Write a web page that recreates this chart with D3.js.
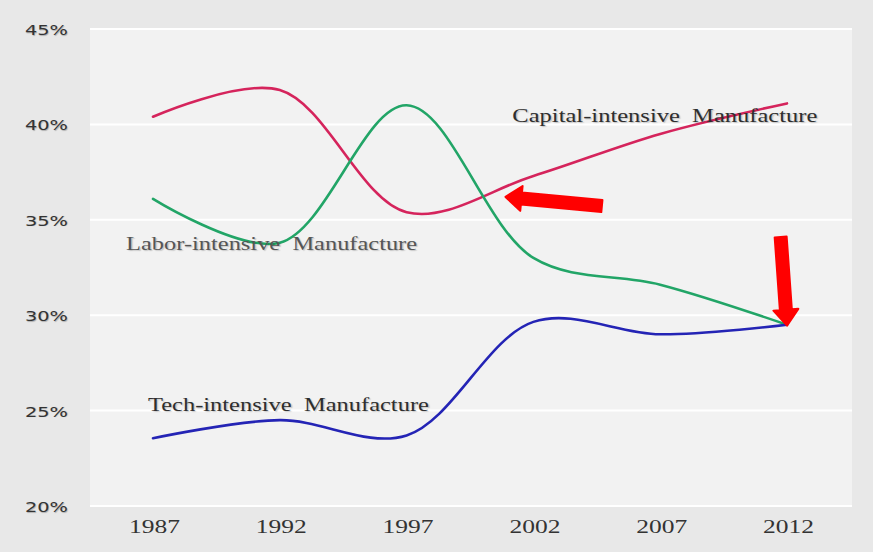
<!DOCTYPE html>
<html><head><meta charset="utf-8">
<script src="https://cdn.jsdelivr.net/npm/d3@7"></script>
<style>html,body{margin:0;padding:0;background:#e8e8e8;} svg{display:block}</style>
</head><body>
<svg id="chart" width="873" height="552"></svg>
<script>
// ---- data ----
const years = [1987, 1992, 1997, 2002, 2007, 2012];
const capital = [40.4, 41.8, 35.4, 37.3, 39.5, 41.1];
const labor = [36.1, 33.8, 41.0, 33.0, 31.6, 29.5];
const tech = [23.55, 24.5, 23.7, 29.65, 29.0, 29.5];
const yTicks = [20, 25, 30, 35, 40, 45];
const seriesNames = ["Capital-intensive  Manufacture", "Labor-intensive  Manufacture", "Tech-intensive  Manufacture"];
// arrows in data units: [year, percent]
const arrowFrom = [[2004.7, 35.72], [2011.75, 34.1]];
const arrowTo = [[2000.9, 36.2], [2012, 29.45]];

// ---- layout ----
const W = 873, H = 552;
const plot = {left: 90, right: 852, top: 28, bottom: 506};
const svg = d3.select("#chart");
const x = d3.scaleLinear().domain([1987, 2012]).range([153, 787]);
const y = d3.scaleLinear().domain([20, 45]).range([506, 29]);

svg.append("rect").attr("width", W).attr("height", H).attr("fill", "#e8e8e8");
svg.append("rect").attr("x", plot.left).attr("y", plot.top)
  .attr("width", plot.right - plot.left).attr("height", plot.bottom - plot.top)
  .attr("fill", "#f2f2f2");

// gridlines
svg.append("g").selectAll("line").data(yTicks).join("line")
  .attr("x1", plot.left).attr("x2", plot.right)
  .attr("y1", d => y(d)).attr("y2", d => y(d))
  .attr("stroke", "#ffffff").attr("stroke-width", 2);

// y axis
const yAxis = d3.axisLeft(y).tickValues(yTicks).tickFormat(d => d + "%").tickSize(0).tickPadding(0);
const gy = svg.append("g").attr("transform", "translate(68,0)").call(yAxis);
gy.select(".domain").remove();
gy.selectAll("text").attr("font-family", "'DejaVu Sans', sans-serif").attr("font-size", 14.5)
  .attr("fill", "#333").attr("dy", "0.38em")
  .attr("textLength", 43).attr("lengthAdjust", "spacingAndGlyphs")
  .style("text-shadow", "0.5px 0.5px 0.8px rgba(0,0,0,0.25)");

// x axis
const xAxis = d3.axisBottom(x).tickValues(years).tickFormat(d3.format("d")).tickSize(0).tickPadding(0);
const gx = svg.append("g").attr("transform", "translate(1,525)").call(xAxis);
gx.select(".domain").remove();
gx.selectAll("text").attr("font-family", "'Liberation Serif', 'Times New Roman', serif").attr("font-size", 19)
  .attr("fill", "#333").attr("dy", "0.4em")
  .attr("textLength", 51).attr("lengthAdjust", "spacingAndGlyphs");

// lines
const line = d3.line().x((d, i) => x(years[i])).y(d => y(d)).curve(d3.curveCatmullRom.alpha(0.5));
const series = [
  {vals: capital, color: "#d5245c"},
  {vals: labor, color: "#22a567"},
  {vals: tech, color: "#2424b5"}
];
svg.append("g").selectAll("path").data(series).join("path")
  .attr("d", d => line(d.vals)).attr("fill", "none")
  .attr("stroke", d => d.color).attr("stroke-width", 2.6).attr("stroke-linecap", "round");

// series labels
const labelPos = [
  {yr: 2001.17, v: 40.13, len: 305, fill: "#2e2e2e"},
  {yr: 1985.94, v: 33.42, len: 291, fill: "#555"},
  {yr: 1986.8, v: 24.98, len: 281, fill: "#2e2e2e"}
];
svg.append("g").selectAll("text").data(seriesNames).join("text")
  .attr("x", (d, i) => x(labelPos[i].yr)).attr("y", (d, i) => y(labelPos[i].v))
  .attr("font-family", "'Liberation Serif', 'Times New Roman', serif").attr("font-size", 18)
  .attr("fill", (d, i) => labelPos[i].fill)
  .attr("textLength", (d, i) => labelPos[i].len).attr("lengthAdjust", "spacingAndGlyphs")
  .style("white-space", "pre")
  .style("text-shadow", "1px 1px 1px rgba(0,0,0,0.2)")
  .text(d => d);

// arrows
function arrowPath(f, t) {
  const x0 = x(f[0]), y0 = y(f[1]), x1 = x(t[0]), y1 = y(t[1]);
  const dx = x1 - x0, dy = y1 - y0, L = Math.hypot(dx, dy);
  const ux = dx / L, uy = dy / L, nx = -uy, ny = ux;
  const sw = 6, hw = 12.5, hl = 16;
  const bx = x1 - ux * hl, by = y1 - uy * hl;
  const pts = [
    [x0 + nx * sw, y0 + ny * sw],
    [bx + nx * sw, by + ny * sw],
    [bx + nx * hw, by + ny * hw],
    [x1, y1],
    [bx - nx * hw, by - ny * hw],
    [bx - nx * sw, by - ny * sw],
    [x0 - nx * sw, y0 - ny * sw]
  ];
  return "M" + pts.map(p => p.join(",")).join("L") + "Z";
}
svg.append("g").selectAll("path").data(arrowFrom).join("path")
  .attr("d", (d, i) => arrowPath(d, arrowTo[i]))
  .attr("fill", "#ff0000").attr("stroke", "#ff0000").attr("stroke-width", 2)
  .attr("stroke-linejoin", "round");
</script>
</body></html>
